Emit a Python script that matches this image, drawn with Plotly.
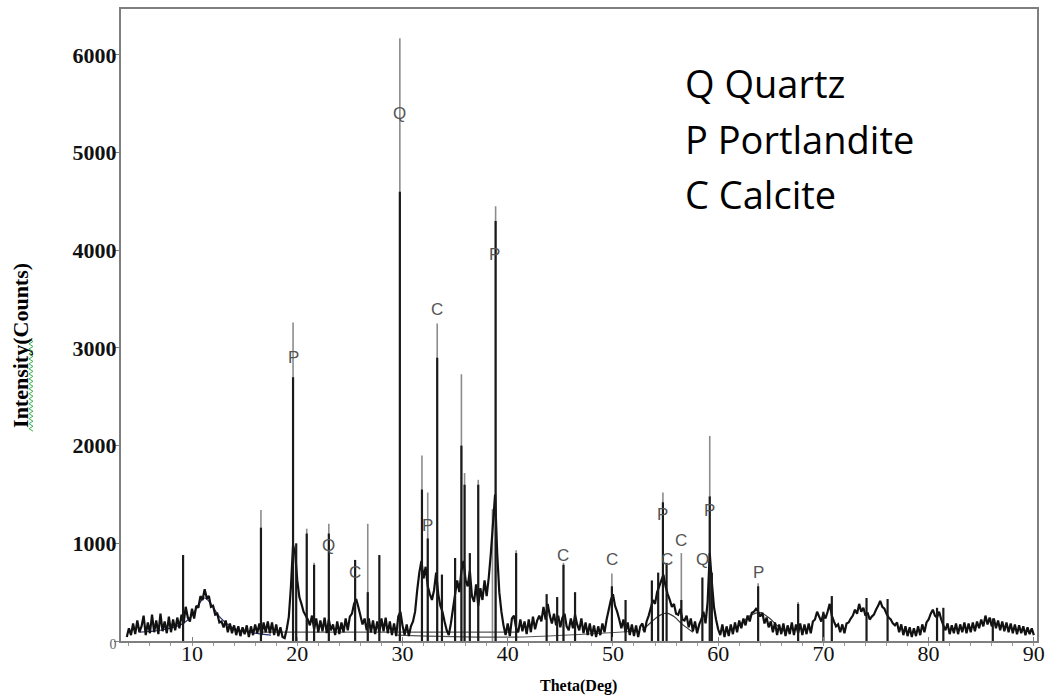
import numpy as np
import plotly.graph_objects as go

# ---------------------------------------------------------------
# Diffraction scan (counts every 0.2 deg, starting at 3.8 deg)
# ---------------------------------------------------------------
scan_start = 3.8
scan_step = 0.2
scan_counts = [
    # 3.8 - 8.6
    40, 130, 60, 180, 70, 210, 90, 150, 260, 60, 190, 80, 270, 90, 210, 70, 280, 100, 200, 80, 250, 90, 220, 110, 240,
    # 8.8 - 13.6
    130, 270, 180, 350, 240, 200, 330, 230, 360, 340, 460, 420, 530, 440, 460, 350, 360, 270, 280, 190, 200, 140, 210, 90, 180,
    # 13.8 - 18.6
    80, 160, 60, 150, 50, 140, 70, 160, 40, 150, 60, 170, 80, 180, 60, 190, 90, 200, 80, 190, 60, 170, 50, 140, 40,
    # 18.8 - 23.6
    30, 120, 250, 560, 980, 900, 620, 450, 380, 300, 260, 220, 160, 260, 120, 230, 90, 210, 100, 240, 80, 220, 110, 170, 60,
    # 23.8 - 28.6
    200, 70, 190, 90, 230, 110, 250, 280, 380, 430, 350, 260, 170, 230, 110, 230, 90, 210, 70, 200, 90, 230, 100, 240, 80,
    # 28.8 - 33.6
    200, 60, 180, 50, 250, 300, 160, 60, 170, 50, 150, 200, 300, 520, 700, 820, 640, 760, 560, 480, 420, 520, 700, 480, 360,
    # 33.8 - 38.6
    300, 200, 110, 60, 180, 330, 480, 620, 500, 720, 820, 620, 560, 720, 460, 400, 580, 360, 540, 420, 620, 460, 650, 900, 1200,
    # 38.8 - 43.6
    1500, 900, 500, 300, 160, 60, 180, 50, 230, 260, 130, 90, 220, 100, 200, 70, 220, 90, 250, 120, 210, 260, 200, 350, 220,
    # 43.8 - 48.6
    380, 260, 180, 280, 160, 260, 140, 240, 280, 150, 110, 230, 130, 270, 170, 110, 230, 80, 190, 60, 180, 50, 160, 40, 150,
    # 48.8 - 53.6
    60, 180, 90, 220, 320, 420, 480, 360, 300, 220, 130, 220, 90, 190, 60, 170, 50, 160, 40, 150, 180, 90, 200, 260, 340,
    # 53.8 - 58.6
    420, 380, 500, 560, 620, 680, 560, 480, 420, 350, 380, 280, 270, 330, 220, 210, 260, 140, 230, 100, 200, 80, 170, 220, 300,
    # 58.8 - 63.6
    180, 400, 900, 600, 350, 220, 120, 60, 170, 40, 150, 50, 170, 70, 190, 90, 210, 130, 230, 160, 260, 200, 290, 300, 330,
    # 63.8 - 68.6
    300, 250, 290, 180, 240, 140, 200, 90, 190, 60, 170, 70, 180, 50, 160, 70, 190, 60, 170, 80, 180, 60, 170, 70, 180,
    # 68.8 - 73.6
    80, 200, 220, 300, 250, 200, 280, 230, 300, 380, 260, 200, 150, 170, 90, 170, 80, 180, 190, 230, 260, 320, 280, 380, 300,
    # 73.8 - 78.6
    340, 260, 290, 220, 250, 270, 320, 360, 410, 350, 330, 280, 240, 220, 180, 160, 190, 90, 170, 60, 150, 50, 140, 40, 130,
    # 78.8 - 83.6
    50, 150, 60, 170, 90, 190, 220, 280, 320, 260, 240, 300, 220, 160, 110, 180, 70, 160, 80, 180, 70, 170, 90, 190, 80,
    # 83.8 - 88.6
    180, 90, 190, 100, 200, 130, 220, 150, 260, 170, 240, 150, 230, 130, 210, 110, 200, 100, 190, 90, 180, 80, 170, 70, 160,
    # 88.8 - 90.0
    80, 150, 60, 140, 70, 130, 60,
]

# Observed reflections (position in deg, peak counts)
peak_pos = [9.15, 16.55, 19.6, 19.9, 20.9, 21.6, 23.0, 25.5, 26.7, 27.8,
            29.75, 31.85, 32.4, 33.3, 33.75, 35.0, 35.6, 35.9, 36.4, 37.2,
            38.85, 40.8, 43.7, 44.7, 45.3, 46.4, 49.9, 51.2, 53.7, 54.3,
            54.75, 55.1, 56.5, 58.5, 59.2, 59.4, 63.8, 67.6, 70.0, 70.8,
            74.1, 76.1, 80.8, 81.4, 86.1]
peak_counts = [880, 1160, 2700, 1000, 1100, 780, 1100, 830, 500, 880,
               4600, 1550, 1050, 2900, 680, 850, 2000, 1600, 900, 1600,
               4300, 900, 480, 450, 780, 500, 560, 420, 620, 700,
               1420, 800, 420, 650, 1480, 700, 560, 380, 300, 460,
               440, 430, 340, 340, 230]

# Fitted line profile (stick heights)
stick_pos = [16.55, 19.6, 20.9, 21.6, 23.0, 26.7, 29.75, 31.85, 32.4, 33.3,
             35.6, 35.9, 37.2, 38.55, 38.85, 40.8, 45.3, 49.9, 54.75, 56.5,
             59.2, 63.8, 67.6]
stick_counts = [1340, 3260, 1150, 800, 1200, 1200, 6170, 1900, 1520, 3250,
                2730, 1720, 1650, 1350, 4450, 930, 800, 690, 1520, 900,
                2100, 590, 400]

# Phase identification letters
phase_pos = [19.6, 23.0, 25.5, 29.75, 32.4, 33.3, 38.7, 45.3, 49.9, 54.75,
             55.1, 56.5, 58.5, 59.2, 63.8]
phase_counts = [2900, 980, 700, 5400, 1180, 3390, 3960, 880, 830, 1300,
                830, 1030, 830, 1340, 700]
phase_tag = ["P", "Q", "C", "Q", "P", "C", "P", "C", "C", "P",
             "C", "C", "Q", "P", "P"]

# Background / amorphous hump fits
hump_a_x = [5.0, 7.0, 9.0, 10.0, 10.6, 11.2, 11.8, 12.6, 14.0, 16.0, 17.5]
hump_a_y = [90, 110, 170, 260, 370, 440, 380, 250, 130, 80, 60]
hump_b_x = [52.8, 53.6, 54.4, 55.1, 55.8, 56.6, 57.6]
hump_b_y = [110, 190, 260, 285, 250, 170, 90]
hump_c_x = [61.6, 62.4, 63.2, 64.0, 64.8, 65.6, 66.4]
hump_c_y = [130, 200, 270, 290, 240, 160, 90]
base_a_x = [16.5, 41.0]
base_a_y = [90, 90]
base_b_x = [29.5, 40.5, 52.0]
base_b_y = [60, 40, 100]

legend_lines = ["Q Quartz", "P Portlandite", "C Calcite"]

x_ticks = [10, 20, 30, 40, 50, 60, 70, 80, 90]
y_ticks = [0, 1000, 2000, 3000, 4000, 5000, 6000]

two_theta = np.round(scan_start + scan_step * np.arange(len(scan_counts)), 2)


def sticks(pos, heights):
    xs, ys = [], []
    for p, h in zip(pos, heights):
        xs += [p, p, None]
        ys += [0, h, None]
    return xs, ys


fig = go.Figure()

sx, sy = sticks(stick_pos, stick_counts)
fig.add_trace(go.Scatter(x=sx, y=sy, mode="lines",
                         line=dict(color="#8c8c8c", width=1.6), hoverinfo="skip"))

for hx, hy, col in [(hump_a_x, hump_a_y, "#24306e"), (hump_b_x, hump_b_y, "#3a3a3a"),
                    (hump_c_x, hump_c_y, "#3a3a3a"), (base_a_x, base_a_y, "#555555"),
                    (base_b_x, base_b_y, "#555555")]:
    fig.add_trace(go.Scatter(x=hx, y=hy, mode="lines", line=dict(color=col, width=1.2),
                             line_shape="spline", hoverinfo="skip"))

fig.add_trace(go.Scatter(x=two_theta, y=scan_counts, mode="lines",
                         line=dict(color="#111111", width=2.2, simplify=False)))

px_, py_ = sticks(peak_pos, peak_counts)
fig.add_trace(go.Scatter(x=px_, y=py_, mode="lines",
                         line=dict(color="#1a1a1a", width=2.2), hoverinfo="skip"))

for xp, yp, t in zip(phase_pos, phase_counts, phase_tag):
    fig.add_annotation(x=xp, y=yp, text=t, showarrow=False, xanchor="center", yanchor="middle",
                       font=dict(family="Liberation Sans, Arial", size=17, color="#555555"))

# plot area in pixels: left 121, right 1037, top 7, bottom 641
L, R, T, B = 121, 1037, 7, 641


def paper_x(px):
    return (px - L) / (R - L)


def paper_y(py):
    return (B - py) / (B - T)


for i, txt in enumerate(legend_lines):
    fig.add_annotation(x=paper_x(683), y=paper_y(81 + 56 * i), xref="paper", yref="paper",
                       text=txt, showarrow=False, xanchor="left", yanchor="middle",
                       font=dict(family="Open Sans", size=38, color="#000000"))

fig.add_annotation(x=paper_x(21), y=paper_y(345), xref="paper", yref="paper",
                   text="<b>Intensity(Counts)</b>", textangle=-90, showarrow=False,
                   xanchor="center", yanchor="middle",
                   font=dict(family="Liberation Serif", size=22, color="#000000"))
fig.add_annotation(x=paper_x(578), y=paper_y(686), xref="paper", yref="paper",
                   text="<b>Theta(Deg)</b>", showarrow=False,
                   xanchor="center", yanchor="middle",
                   font=dict(family="Liberation Serif", size=16, color="#000000"))

# wavy spell-check style underline beside the axis title
wave = []
yy = 338
k = 0
while yy <= 432:
    wave.append(f"{paper_x(29 if k % 2 == 0 else 33):.5f},{paper_y(yy):.5f}")
    yy += 2.5
    k += 1
fig.add_shape(type="path", xref="paper", yref="paper", path="M " + " L ".join(wave),
              line=dict(color="#3cb34a", width=1))

y_text = ['<span style="font-size:14px;font-weight:normal;color:#666666">0</span>'] + \
         [f"<b>{v}</b>" for v in y_ticks[1:]]

fig.update_layout(
    width=1053, height=698,
    margin=dict(l=L, r=1053 - R, t=T, b=698 - B),
    plot_bgcolor="white", paper_bgcolor="white",
    showlegend=False,
    xaxis=dict(range=[3.25, 90.3], tickvals=x_ticks, showgrid=False, zeroline=False,
               showline=True, linecolor="#7f7f7f", linewidth=2, mirror=True,
               ticks="inside", ticklen=4, tickcolor="#7f7f7f", ticklabelstandoff=-8,
               minor=dict(dtick=2, ticks="outside", ticklen=3, tickcolor="#9a9a9a"),
               tickfont=dict(family="Liberation Serif", size=22, color="#111111")),
    yaxis=dict(range=[0, 6470], tickvals=y_ticks, ticktext=y_text, showgrid=False,
               zeroline=False, showline=True, linecolor="#7f7f7f", linewidth=2, mirror=True,
               ticks="outside", ticklen=5, tickcolor="#7f7f7f", ticklabelstandoff=-7,
               tickfont=dict(family="Liberation Serif", size=22, color="#111111")),
)

fig.write_html("out.html")
